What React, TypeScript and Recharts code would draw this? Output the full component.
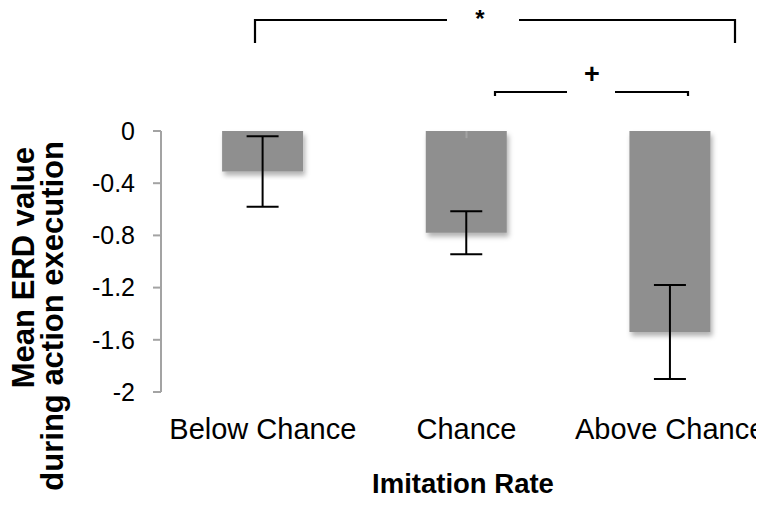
import React from 'react';
import { BarChart, Bar, XAxis, YAxis, ErrorBar, Customized, Rectangle, ReferenceLine } from 'recharts';

const categories = ['Below Chance', 'Chance', 'Above Chance'];
const meanErd = [-0.31, -0.78, -1.54];
const sem = [0.27, 0.165, 0.36];
const yTicks = [-2, -1.6, -1.2, -0.8, -0.4, 0];
const edgeTicks = [0, 1, 2, 3];
const boundaryTicks = [1, 2];

const data = categories.map((name, i) => ({ name, value: meanErd[i], err: sem[i] }));

const FONT = '"Liberation Sans", Arial, Helvetica, sans-serif';
const AXIS = '#a3a3a3';

const ShadowBar = (props: any) => (
  <Rectangle {...props} fill="#8f8f8f" filter="url(#barShadow)" />
);

const Annotations = () => (
  <g fontFamily={FONT}>
    {/* significance brackets */}
    <path d="M255,43 V20 H447 M519,20 H735 V43" fill="none" stroke="#000" strokeWidth={2.2} />
    <text x={480} y={27} textAnchor="middle" fontSize={24} fontWeight="bold">*</text>
    <path d="M495,96 V92 H567 M615,92 H688 V96" fill="none" stroke="#000" strokeWidth={2.2} />
    <text x={592} y={83} textAnchor="middle" fontSize={27} fontWeight="bold">+</text>

    {/* axis titles */}
    <text x={463} y={493} textAnchor="middle" fontSize={27.5} fontWeight="bold">Imitation Rate</text>
    <text transform="translate(34,147) rotate(-90)" textAnchor="end" fontSize={31} fontWeight="bold">
      Mean ERD value
    </text>
    <text transform="translate(63,141) rotate(-90)" textAnchor="end" fontSize={31} fontWeight="bold">
      during action execution
    </text>
  </g>
);

export default function App() {
  return (
    <div style={{ margin: -8, width: 764, height: 520, overflow: 'hidden', position: 'relative', background: '#fff' }}>
      <svg width={0} height={0} style={{ position: 'absolute' }}>
        <defs>
          <filter id="barShadow" x="-20%" y="-20%" width="140%" height="140%">
            <feDropShadow dx={2} dy={4} stdDeviation={2.5} floodColor="#000" floodOpacity={0.3} />
          </filter>
        </defs>
      </svg>
      <BarChart
        width={790}
        height={520}
        data={data}
        margin={{ top: 131, right: 18, bottom: 68, left: 0 }}
        barCategoryGap="30%"
      >
        <XAxis
          xAxisId="edge"
          type="number"
          domain={[0, 3]}
          ticks={edgeTicks}
          orientation="top"
          mirror
          height={0}
          tick={false}
          tickLine={false}
          axisLine={{ stroke: AXIS, strokeWidth: 2 }}
        />
        <XAxis
          xAxisId="cat"
          dataKey="name"
          orientation="bottom"
          height={60}
          axisLine={false}
          tickLine={false}
          tickMargin={20}
          interval={0}
          tick={{ fill: '#000', fontSize: 29, fontFamily: FONT }}
        />
        <YAxis
          width={161}
          domain={[-2, 0]}
          ticks={yTicks}
          interval={0}
          tickSize={8}
          tickMargin={18}
          axisLine={{ stroke: AXIS, strokeWidth: 2 }}
          tickLine={{ stroke: AXIS, strokeWidth: 2 }}
          tick={{ fill: '#000', fontSize: 25, fontFamily: FONT }}
        />
        {boundaryTicks.map((b) => (
          <ReferenceLine
            key={b}
            xAxisId="edge"
            segment={[{ x: b, y: 0 }, { x: b, y: -0.055 }]}
            stroke={AXIS}
            strokeWidth={2}
          />
        ))}
        <Bar xAxisId="cat" dataKey="value" fill="#8f8f8f" shape={ShadowBar} isAnimationActive={false}>
          <ErrorBar dataKey="err" width={16} stroke="#000" strokeWidth={2} direction="y" isAnimationActive={false} />
        </Bar>
        <Customized component={Annotations} />
      </BarChart>
    </div>
  );
}
